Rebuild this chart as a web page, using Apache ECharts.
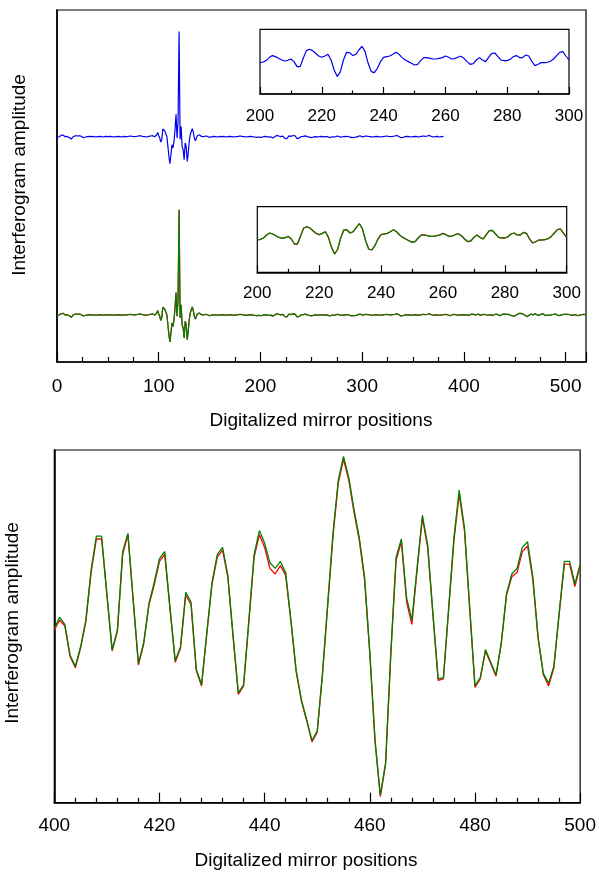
<!DOCTYPE html>
<html><head><meta charset="utf-8">
<script src="https://cdn.jsdelivr.net/npm/echarts@6/dist/echarts.min.js"></script>
<style>html,body{margin:0;padding:0;background:#fff}#c{width:599px;height:875px}</style>
</head><body><div id="c"></div>
<script>
// Amplitude units: arbitrary (7 units ~ 1 px on the top overview panel)
// positions 0..96, step 2
const leadAmp = [-5,0,9,12,0,2,-5,-16,0,7, 5,7,2,-7,-2,0,2,0,2,-2, 0,2,0,-2,2,0,2,0,-2,0, 2,0,-2,2,0,2,5,2,0,2, 5,7,2,0,-2,2,5,7,0];
// positions 97..145, step 1 (centre burst)
const burstAmp = [0,14,30,7,-9,-38,-20,54,44,40, 44,2,-68,-138,-189,-126,-56,-79,-33,49, 157,-9,107,737,-20,72,-68,-91,-161,-44, -68,-173,-114,-33,14,37,56,30,-9,-28, -21,7,-2,14,26,2,-9,0,2];
// positions 146..198, step 2
const midAmp = [5,2,-5,0,2,0,-2,2,0,2, -2,0,2,0,-2,0,2,5,2,0, -2,0,2,0,-2,-5,-2];
// positions 200..300, step 1 (shown in the insets)
const insetAmp = [-4.3,-3.7,-2.3,0.7,2.7,1.7,0,-1.7,-2.7,-2.0,
  -0.7,-3.3,-8.3,-8.3,0,7.7,9,7.7,5,2.3,
  1,2.3,4,-1.7,-11.7,-18.3,-13.3,-1.7,6,5.7,
  2.7,4,8.3,12,6.7,-5,-13.3,-14.3,-10,-3.3,
  1,1.7,2.3,4,6,4,0.7,-1.7,-3.3,-5,
  -6.7,-6,-2.3,0.7,0.7,0,-0.7,-0.7,0,0.7,
  2.3,1,-0.7,-0.3,1,2,0,-3.3,-6,-5.3,
  -1.7,0.7,-1.7,-3.3,1,5,5.3,1.7,-1.7,-2.3,
  -2.3,-1,1.7,2.7,0.7,0.7,3.3,2.3,-3.3,-7.3,
  -6,-4.3,-4.3,-4,-3,-0.7,2.7,6,6.7,2.3,
  -1.7];
// positions 302..398, step 2
const tailAmp = [2,5,2,0,-2,0,2,0,-2,0, 2,5,2,0,2,5,9,2,-7,-5, 0,2,0,-2,0,2,0,-2,2,5, 2,5,9,2,-2,0,2,-2,0,2, 5,2,-5,0,5,2,-2,0,2];
// positions 400..500, step 1 (bottom panel)
const zoomGreen = [0.1,0.9,0.4,-1.8,-2.6,-1.2,0.7,4.3,6.7,6.7,
  2.6,-1.4,0.0,5.6,6.9,2.2,-2.4,-0.9,1.9,3.4,
  5.1,5.6,1.6,-2.2,-1.2,2.7,2.0,-2.8,-3.9,-0.2,
  3.4,5.4,5.9,3.9,-0.4,-4.5,-3.9,0.7,5.4,7.1,
  6.2,4.8,4.4,4.9,4.1,0.7,-2.9,-5.0,-6.4,-7.9,
  -7.2,-3.1,1.9,6.9,10.7,12.4,10.9,8.6,6.6,3.8,
  -1.6,-7.9,-11.8,-9.5,-1.6,5.2,6.5,2.3,0.7,4.5,
  8.2,6.1,1.2,-3.5,-3.4,1.6,6.6,10.0,7.3,1.6,
  -4.0,-3.4,-1.4,-2.3,-3.2,-0.9,2.6,4.0,4.4,5.9,
  6.3,3.8,-0.5,-3.1,-3.8,-2.6,1.2,4.9,4.9,3.3,
  4.7];
const zoomRed = [0.0,0.7,0.3,-1.9,-2.7,-1.3,0.6,4.1,6.5,6.5,
  2.5,-1.5,-0.1,5.4,6.8,2.1,-2.5,-1.0,1.8,3.2,
  4.9,5.4,1.5,-2.3,-1.3,2.5,1.8,-2.9,-4.0,-0.3,
  3.3,5.2,5.7,3.8,-0.5,-4.6,-4.0,0.6,5.2,6.8,
  5.9,4.4,4.0,4.6,3.9,0.6,-3.0,-5.1,-6.5,-8.0,
  -7.3,-3.2,1.8,6.7,10.5,12.2,10.7,8.4,6.4,3.6,
  -1.7,-8.0,-11.9,-9.6,-1.7,5.0,6.3,2.0,0.4,4.3,
  8.0,5.9,1.1,-3.6,-3.5,1.5,6.4,9.7,7.1,1.5,
  -4.1,-3.5,-1.5,-2.4,-3.3,-1.0,2.5,3.8,4.1,5.6,
  6.0,3.6,-0.6,-3.2,-4.0,-2.7,1.1,4.7,4.7,3.1,
  4.6];
// positions 502..520, step 2
const endAmp = [5,2,-2,0,2,-5,0,2,5,2];

const blueEnd = 380;
const xTitle = 'Digitalized mirror positions';
const yTitle = 'Interferogram amplitude';

function seg(start, step, arr){ return arr.map((v,i)=>[start+i*step, v]); }
const common = [].concat(seg(0,2,leadAmp), seg(97,1,burstAmp), seg(146,2,midAmp), seg(200,1,insetAmp), seg(302,2,tailAmp));
const blueData = common.filter(p=>p[0]<=blueEnd);
const greenData = common.concat(seg(400,1,zoomGreen), seg(502,2,endAmp));
const redData = common.concat(seg(400,1,zoomRed), seg(502,2,endAmp));
const insetData = seg(200,1,insetAmp);

const FONT = '"Liberation Sans", Arial, Helvetica, sans-serif';
const BLK = '#000';
const tickLS = {color:BLK, width:1.2};

function visX(grid, min, max, interval, minorSplit, majLen, minLen, fs, margin, extra){
  return Object.assign({gridIndex:grid, type:'value', min:min, max:max, interval:interval,
    axisLine:{show:true, onZero:false, lineStyle:{color:BLK, width:1.6}},
    axisTick:{show:true, inside:true, length:majLen, lineStyle:tickLS},
    minorTick:{show:true, splitNumber:minorSplit, length:minLen, lineStyle:tickLS},
    axisLabel:{show:true, color:BLK, fontSize:fs, fontFamily:FONT, margin:margin},
    splitLine:{show:false}, minorSplitLine:{show:false}}, extra||{});
}
function hidX(grid, min, max){ return {gridIndex:grid, type:'value', min:min, max:max, show:false, axisLine:{onZero:false}, splitLine:{show:false}}; }
function hidY(grid, min, max, showLine){
  return {gridIndex:grid, type:'value', min:min, max:max, show:!!showLine,
    axisLine:{show:!!showLine, onZero:false, lineStyle:{color:BLK, width:1.6}},
    axisTick:{show:false}, axisLabel:{show:false}, splitLine:{show:false}};
}
function line(xi, yi, data, color, w, z){
  return {type:'line', xAxisIndex:xi, yAxisIndex:yi, data:data, showSymbol:false, symbol:'none',
    lineStyle:{color:color, width:w}, z:z||2, animation:false, silent:true};
}

const option = {
  animation:false,
  backgroundColor:'#fff',
  grid:[
    {left:57, top:10, width:529, height:352, show:true, borderColor:BLK, borderWidth:1.2, backgroundColor:'transparent'},
    {left:57, top:10, width:529, height:352},
    {left:260, top:29.3, width:309, height:64.7, show:true, borderColor:BLK, borderWidth:1.2, backgroundColor:'transparent'},
    {left:257.3, top:206.7, width:309.4, height:65.6, show:true, borderColor:BLK, borderWidth:1.2, backgroundColor:'transparent'},
    {left:54.3, top:450, width:529.7, height:352.7, show:true, borderColor:BLK, borderWidth:1.2, backgroundColor:'transparent'}
  ],
  xAxis:[
    visX(0, 0, 520, 100, 4, 10, 5, 19, 15, {axisLabel:{show:true, color:BLK, fontSize:19, fontFamily:FONT, margin:15, showMaxLabel:false}}),
    hidX(1, 0, 520),
    visX(2, 200, 300, 20, 2, 7, 3.5, 17, 14),
    visX(3, 200, 300, 20, 2, 7, 3.5, 17, 12.5),
    visX(4, 400, 500, 20, 5, 10, 5, 19, 14)
  ],
  yAxis:[
    hidY(0, -1577, 887, true),
    hidY(1, -329, 2135, false),
    hidY(2, -35.7, 29, false),
    hidY(3, -36.6, 29, false),
    hidY(4, -12.34, 12.86, true)
  ],
  series:[
    line(0,0,blueData,'#0000f0',1.2,3),
    line(1,1,redData,'#e01010',1.3,2),
    line(1,1,greenData,'#008000',1.2,3),
    line(2,2,insetData,'#0000f0',1.2,3),
    line(3,3,insetData,'#e01010',1.3,2),
    line(3,3,insetData,'#008000',1.2,3),
    line(4,4,seg(400,1,zoomRed),'#ff0000',1.3,2),
    line(4,4,seg(400,1,zoomGreen),'#008000',1.3,3)
  ],
  graphic:[
    {type:'text', x:321, y:421, style:{text:xTitle, fontSize:19, fontFamily:FONT, fill:BLK, align:'center', verticalAlign:'middle', textAlign:'center', textVerticalAlign:'middle'}},
    {type:'text', x:306, y:861, style:{text:xTitle, fontSize:19, fontFamily:FONT, fill:BLK, align:'center', verticalAlign:'middle', textAlign:'center', textVerticalAlign:'middle'}},
    {type:'text', x:20, y:175, rotation:Math.PI/2, style:{text:yTitle, fontSize:19, fontFamily:FONT, fill:BLK, align:'center', verticalAlign:'middle', textAlign:'center', textVerticalAlign:'middle'}},
    {type:'text', x:12.5, y:623, rotation:Math.PI/2, style:{text:yTitle, fontSize:19, fontFamily:FONT, fill:BLK, align:'center', verticalAlign:'middle', textAlign:'center', textVerticalAlign:'middle'}}
  ]
};
const chart = echarts.init(document.getElementById('c'), null, {renderer:'canvas'});
chart.setOption(option);
</script></body></html>
